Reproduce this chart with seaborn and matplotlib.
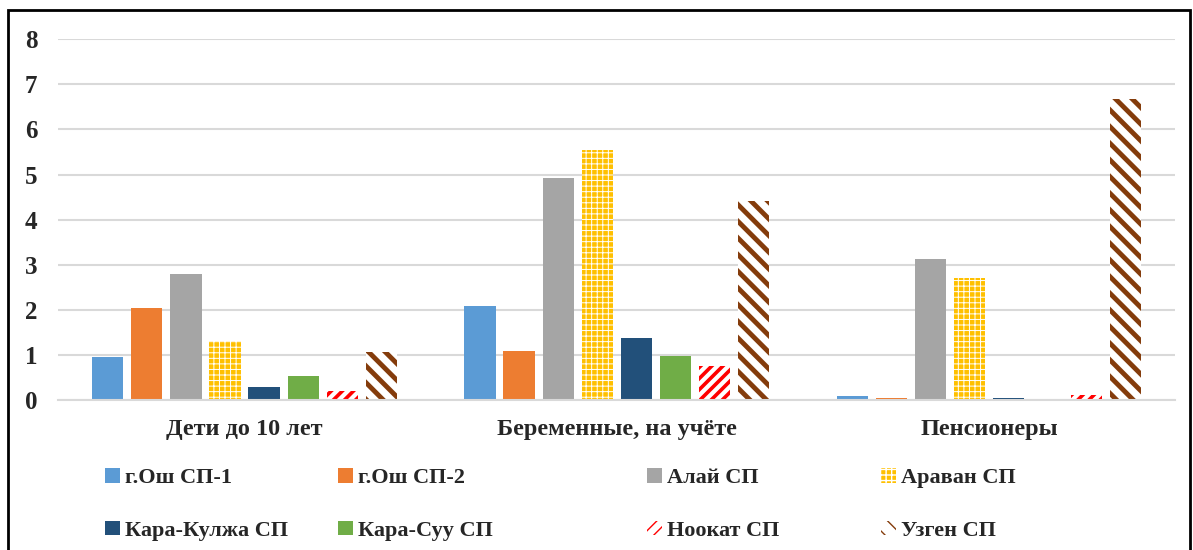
import pandas as pd
import matplotlib.pyplot as plt
import seaborn as sns
from matplotlib.patches import Rectangle

groups = ['Дети до 10 лет', 'Беременные, на учёте', 'Пенсионеры']
districts = ['г.Ош СП-1', 'г.Ош СП-2', 'Алай СП', 'Араван СП',
             'Кара-Кулжа СП', 'Кара-Суу СП', 'Ноокат СП', 'Узген СП']
vals_children = [0.96, 2.03, 2.79, 1.30, 0.28, 0.54, 0.20, 1.07]
vals_pregnant = [2.08, 1.09, 4.92, 5.54, 1.37, 0.98, 0.75, 4.41]
vals_pension = [0.09, 0.04, 3.13, 2.71, 0.05, 0.0, 0.11, 6.67]

colors = ['#5B9BD5', '#ED7D31', '#A5A5A5', '#FFC000',
          '#22507A', '#70AD47', '#FF0000', '#843C0C']

rows = []
for g, vals in zip(groups, [vals_children, vals_pregnant, vals_pension]):
    for d, v in zip(districts, vals):
        rows.append({'group': g, 'district': d, 'value': v})
df = pd.DataFrame(rows)

sns.set_style('white')
plt.rcParams['font.family'] = ['Liberation Serif', 'DejaVu Serif']
plt.rcParams['font.weight'] = 'bold'

fig = plt.figure(figsize=(11.93, 5.5), dpi=100)
ax = fig.add_axes([0.049, 0.2727, 0.936, 0.6558])

sns.barplot(data=df, x='group', y='value', hue='district', hue_order=districts,
            palette=colors, width=0.84, gap=0.2, saturation=1,
            errorbar=None, legend=False, ax=ax)

# patterned series
hatch_spec = {3: ('#FFC000', 'white', '+++', 0.7),
              6: ('white', '#FF0000', '///', 2.6),
              7: ('white', '#843C0C', '\\\\', 3.5)}
for i, cont in enumerate(ax.containers):
    for bar in cont:
        bar.set_linewidth(0)
        if i in hatch_spec:
            face, hc, h, lw = hatch_spec[i]
            bar.set_facecolor(face)
            bar.set_edgecolor(hc)
            bar.set_hatch(h)
            if hasattr(bar, 'set_hatch_linewidth'):
                bar.set_hatch_linewidth(lw)

ax.set_ylim(0, 8)
ax.set_xlim(-0.5, 2.5)
ax.set_yticks(range(0, 9))
ax.yaxis.grid(True, color='#D9D9D9', linewidth=1.5)
ax.set_axisbelow(True)
for s in ['left', 'right', 'top']:
    ax.spines[s].set_visible(False)
ax.spines['bottom'].set_color('#D9D9D9')
ax.spines['bottom'].set_linewidth(1.5)
ax.tick_params(axis='both', length=0)
ax.tick_params(axis='y', pad=15, labelsize=18)
ax.tick_params(axis='x', pad=14, labelsize=17.5)
for t in ax.get_xticklabels() + ax.get_yticklabels():
    t.set_fontweight('bold')
ax.set_xlabel('')
ax.set_ylabel('')

# legend: 4 columns, 2 rows
handles = [cont[0] for cont in ax.containers]
col_x = [94, 327, 636, 870]
for c, x in enumerate(col_x):
    leg = fig.legend([handles[c], handles[c + 4]], [districts[c], districts[c + 4]],
                     loc='upper left', bbox_to_anchor=(x / 1193, 1 - 457 / 550),
                     frameon=False, ncol=1, handlelength=0.65, handleheight=0.65,
                     handletextpad=0.25, labelspacing=1.45, borderpad=0,
                     prop={'size': 16, 'weight': 'bold'})

fig.patches.append(Rectangle((8 / 1193, -0.02), 1182 / 1193, 1.02 - 10 / 550,
                             transform=fig.transFigure, fill=False,
                             edgecolor='black', linewidth=2))

fig.savefig('out.png', dpi=100)
